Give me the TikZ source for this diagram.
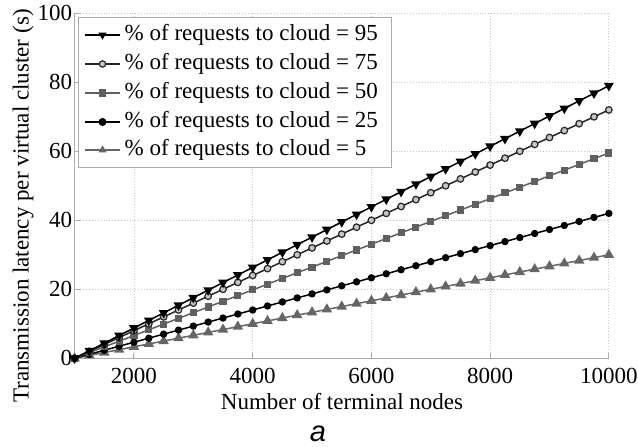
\documentclass[tikz,border=0pt]{standalone}
\usepackage{fontspec}
\setmainfont{Liberation Serif}
\newfontfamily\captionsans{Liberation Sans}
\usepackage{tikz}
\usetikzlibrary{plotmarks}

\begin{document}
\begin{tikzpicture}[x=1bp, y=1bp, font=\rmfamily\fontsize{23bp}{27bp}\selectfont]

    % Define styles for the axes and the different curves
    \tikzstyle{gridline} = [gray!45, dotted, line width=0.9bp]
    \tikzstyle{axisline} = [gray!65, line width=1bp]
    \tikzstyle{cloud95} = [black, line width=1.5bp, mark=triangle*, mark size=4.2bp, mark options={rotate=180, fill=black, solid}]
    \tikzstyle{cloud75} = [gray!30!black, line width=1.5bp, mark=*, mark size=3.3bp, mark options={line width=1.2bp, draw=gray!30!black, fill=gray!45}]
    \tikzstyle{cloud50} = [gray!75!black, line width=1.5bp, mark=square*, mark size=2.8bp, mark options={fill=gray!75!black}]
    \tikzstyle{cloud25} = [black, line width=1.5bp, mark=*, mark size=2.9bp, mark options={fill=black}]
    \tikzstyle{cloud5} = [gray!80!black, line width=1.5bp, mark=triangle*, mark size=4.6bp, mark options={fill=gray!80!black}]

    \useasboundingbox (0,0) rectangle (638,447);

    % plot area: x in steps of 250 nodes from 1000, y in seconds
    \begin{scope}[shift={(74.6,88.7)}, x=14.84bp, y=3.45bp]
        \foreach \n in {4,12,...,36}
            \draw[gridline] (\n,0) -- (\n,100);
        \foreach \v in {20,40,...,100}
            \draw[gridline] (0,\v) -- (36,\v);

        \draw[axisline] (0,100) -- (0,0) -- (36,0);
        \foreach \n in {4,12,...,36}
            \draw[axisline] (\n,0) -- ++(0,1.6);
        \foreach \v in {20,40,...,100}
            \draw[axisline] (0,\v) -- ++(0.4,0);

        \foreach \n/\lab in {4/2000,12/4000,20/6000,28/8000,36/10000}
            \node (xtick\lab) at (\n,-5.1) {\lab};
        \foreach \v in {0,20,...,100}
            \node (ytick\v) [anchor=east, inner sep=0pt] at (-0.15,\v) {\v};

        \draw[cloud5] plot[domain=0:36, samples=37] (\x, {\x*30/36});
        \draw[cloud25] plot[domain=0:36, samples=37] (\x, {\x*42/36});
        \draw[cloud50] plot[domain=0:36, samples=37] (\x, {\x*59.5/36});
        \draw[cloud75] plot[domain=0:36, samples=37] (\x, {\x*72/36});
        \draw[cloud95] plot[domain=0:36, samples=37] (\x, {\x*79/36});
    \end{scope}

    % legend
    \draw[axisline, fill=white] (78,279) rectangle (391,429);
    \foreach \p/\y in {95/412,75/383,50/354,25/325,5/297} {
        \draw[cloud\p, mark size=3.2bp, mark indices={2}] plot coordinates {(85,\y) (102.5,\y) (120,\y)};
        \node (legend\p) [anchor=west, inner sep=0pt] at (124.5,\y) {\% of requests to cloud = \p};
    }

    % axis titles and caption
    \node (ylabel) [rotate=90, anchor=base] at (28.5,241) {Transmission latency per virtual cluster (s)};
    \node (xlabel) at (342,45) {Number of terminal nodes};
    \node (caption) at (318,13) {\captionsans\itshape\fontsize{29bp}{32bp}\selectfont a};

\end{tikzpicture}
\end{document}
